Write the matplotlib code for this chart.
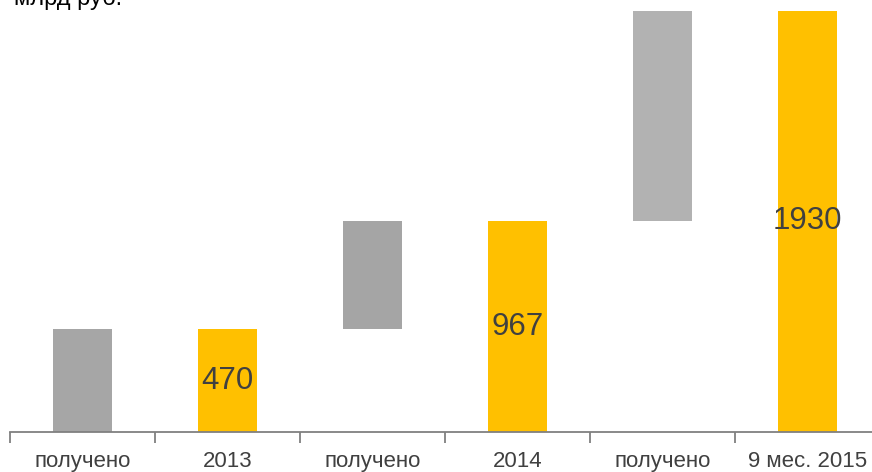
import matplotlib
matplotlib.use("Agg")
import matplotlib.pyplot as plt
from matplotlib.ticker import FixedLocator

plt.rcParams['font.family'] = ['Liberation Sans', 'DejaVu Sans']

categories = ["получено", "2013", "получено", "2014", "получено", "9 мес. 2015"]
bottoms = [0, 0, 470, 0, 967, 0]
heights = [470, 470, 497, 967, 963, 1930]
labels = ["", "470", "", "967", "", "1930"]
colors = ["#A6A6A6", "#FFC000", "#A5A5A5", "#FFC000", "#B2B2B2", "#FFC000"]
unit = "млрд руб."

W, H = 872, 472
fig = plt.figure(figsize=(W / 100, H / 100), dpi=100)
ax_left, ax_right = 10, 880
ax_bottom, ax_top = 432, 0
ax = fig.add_axes([ax_left / W, (H - ax_bottom) / H, (ax_right - ax_left) / W, (ax_bottom - ax_top) / H])

x = list(range(len(categories)))
ax.bar(x, heights, bottom=bottoms, width=0.41, color=colors, zorder=2)
for xi, b, h, lab in zip(x, bottoms, heights, labels):
    if lab:
        ax.text(xi, b + h / 2, lab, ha='center', va='center', fontsize=22.5, color='#404040', zorder=3)

ax.set_xlim(-0.5, 5.5)
ax.set_ylim(0, 1980)
for s in ['top', 'right', 'left']:
    ax.spines[s].set_visible(False)
ax.spines['bottom'].set_color('#808080')
ax.spines['bottom'].set_linewidth(1.3)
ax.set_yticks([])
ax.set_xticks(x)
ax.set_xticklabels(categories, fontsize=16, color='#404040')
ax.tick_params(axis='x', which='major', length=0, pad=14)
ax.xaxis.set_minor_locator(FixedLocator([i - 0.5 for i in range(len(categories) + 1)]))
ax.tick_params(axis='x', which='minor', length=8, width=1.3, color='#808080')

fig.text(14 / W, 1 - 5 / H, unit, ha='left', va='baseline', fontsize=17, color='black')

fig.savefig("out.png", dpi=100)
